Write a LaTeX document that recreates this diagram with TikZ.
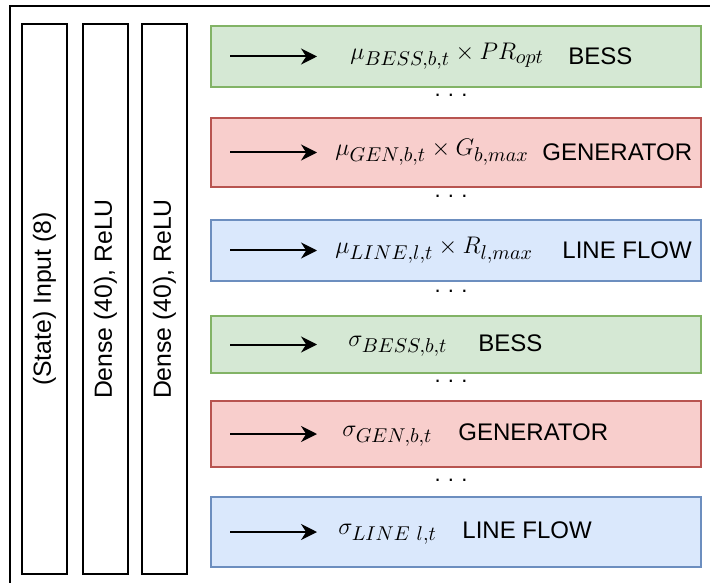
\documentclass[tikz,border=0pt]{standalone}
\usepackage{amsmath}
\usepackage{fontspec}
\setmainfont{Liberation Sans}
\usepackage{tikz}
\usetikzlibrary{arrows.meta}
\DeclareMathSizes{12.4}{12.4}{9.8}{7.5}
\definecolor{gfill}{HTML}{D5E8D4}
\definecolor{gline}{HTML}{82B366}
\definecolor{rfill}{HTML}{F8CECC}
\definecolor{rline}{HTML}{B85450}
\definecolor{bfill}{HTML}{DAE8FC}
\definecolor{bline}{HTML}{6C8EBF}
\tikzset{
  layer/.style={draw=black, line width=1pt, fill=white, inner sep=0pt,
    minimum height=22.5pt, minimum width=275pt, rotate=90,
    font=\fontsize{12.4}{14}\selectfont},
  outbox/.style={draw=#1line, fill=#1fill, line width=1pt, inner sep=0pt,
    minimum width=245pt},
  mathlbl/.style={anchor=west, inner sep=0pt, font=\fontsize{12.4}{15}\selectfont},
  namelbl/.style={anchor=west, inner sep=0pt, font=\fontsize{12}{14}\selectfont},
  dotlbl/.style={inner sep=0pt, font=\fontsize{11}{13}\selectfont},
  outarrow/.style={-{Stealth[length=8pt,width=8pt]}, line width=1pt}
}
\begin{document}
\begin{tikzpicture}[x=0.5pt, y=-0.5pt]
\useasboundingbox (0,0) rectangle (710,582);
% outer frame, only top and left edges are in view
\begin{scope}
\clip (0,0) rectangle (710,582);
\draw[line width=1pt] (10,600) -- (10,6) -- (720,6);
\end{scope}

% the three layers
\node[layer] (input) at (44.5,299) {(State) Input (8)};
\node[layer] (dense1) at (105.5,299) {Dense (40), ReLU};
\node[layer] (dense2) at (164.5,299) {Dense (40), ReLU};

% output heads: mean
\node[outbox=g, minimum height=30.5pt] (mubess) at (456,56.5) {};
\node[outbox=r, minimum height=34.5pt] (mugen) at (456,152.5) {};
\node[outbox=b, minimum height=30.5pt] (muline) at (456,250.5) {};
% output heads: std
\node[outbox=g, minimum height=28.5pt] (sgbess) at (456,344.5) {};
\node[outbox=r, minimum height=33pt] (sggen) at (456,434) {};
\node[outbox=b, minimum height=35pt] (sgline) at (456,532) {};

\foreach \b in {mubess,mugen,muline,sgbess,sggen,sgline}{
  \coordinate (\b-in) at ([xshift=10pt]\b.west);
  \coordinate (\b-out) at ([xshift=53.5pt]\b.west);
  \draw[outarrow] (\b-in) -- (\b-out);
}

\node[mathlbl] (mubess-eq) at (350,56) {$\mu_{BESS,b,t}\times PR_{opt}$};
\node[namelbl] (mubess-nm) at (568,56) {BESS};
\node[mathlbl] (mugen-eq) at (335,152) {$\mu_{GEN,b,t}\times G_{b,max}$};
\node[namelbl] (mugen-nm) at (542,152) {GENERATOR};
\node[mathlbl] (muline-eq) at (335,250) {$\mu_{LINE,l,t}\times R_{l,max}$};
\node[namelbl] (muline-nm) at (562,250) {LINE FLOW};
\node[mathlbl] (sgbess-eq) at (348,346) {$\sigma_{BESS,b,t}$};
\node[namelbl] (sgbess-nm) at (478,343) {BESS};
\node[mathlbl] (sggen-eq) at (342,436) {$\sigma_{GEN,b,t}$};
\node[namelbl] (sggen-nm) at (458,432) {GENERATOR};
\node[mathlbl] (sgline-eq) at (338,534) {$\sigma_{LINE\ l,t}$};
\node[namelbl] (sgline-nm) at (462,530) {LINE FLOW};

% dots between the heads
\foreach \y [count=\i] in {95,196,291,381,480}
  \node[dotlbl] (dots\i) at (451,\y) {.\,\,.\,\,.};
\end{tikzpicture}
\end{document}
